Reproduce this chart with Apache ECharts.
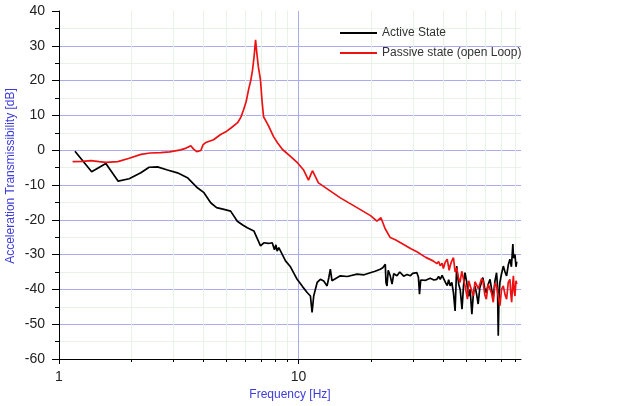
<!DOCTYPE html>
<html>
<head>
<meta charset="utf-8">
<script src="https://cdn.jsdelivr.net/npm/echarts@6/dist/echarts.min.js"></script>
<style>html,body{margin:0;padding:0;background:#fff}#c{width:624px;height:406px}</style>
</head>
<body>
<div id="c"></div>
<script>
// ---- data ----
const seriesNames = ['Active State', 'Passive state (open Loop)'];
const xAxisTitle = 'Frequency [Hz]';
const yAxisTitle = 'Acceleration Transmissibility [dB]';
const xMin = 1, xMax = 85;
const yMin = -60, yMax = 40, yStep = 10;
const majorFreqTicks = [1, 10];
const minorFreqTicks = [2, 3, 4, 5, 6, 7, 8, 9, 20, 30, 40, 50, 60, 70, 80];

const activeState = [
  [1.166,-0.3],[1.369,-6.2],[1.569,-3.8],[1.767,-8.9],[1.963,-8.2],[2.197,-6.5],[2.378,-4.9],[2.578,-4.8],
  [2.838,-5.7],[3.124,-6.5],[3.438,-7.9],[3.785,-10.8],[4.031,-12.2],[4.30,-15.1],[4.55,-16.5],[4.885,-17.0],
  [5.21,-17.5],[5.555,-20.4],[5.85,-21.5],[6.114,-22.3],[6.513,-23.2],[6.944,-27.5],[7.169,-26.6],[7.5,-26.8],
  [7.77,-26.6],[7.94,-28.6],[8.05,-27.2],[8.15,-29.0],[8.28,-28.0],[8.83,-31.8],[9.26,-33.5],[9.876,-37.1],
  [10.4,-39.2],[10.87,-40.9],[11.22,-41.9],[11.40,-46.6],[11.58,-41.9],[11.97,-38.0],[12.35,-37.1],[12.75,-37.6],
  [13.17,-39.0],[13.4,-36.5],[13.59,-34.2],[13.8,-37.5],[14.03,-37.1],[14.96,-36.1],[16.0,-36.3],[17.56,-35.6],
  [18.8,-35.8],[19.95,-35.2],[20.9,-34.8],[21.96,-34.2],[22.5,-33.8],[23.05,-32.8],[23.2,-38.0],[23.43,-39.0],
  [23.71,-34.5],[24.17,-36.1],[24.6,-38.5],[25.0,-35.5],[25.78,-36.1],[26.5,-35.0],[27.5,-36.2],[28.4,-35.7],
  [29.3,-36.1],[30.0,-35.4],[31.23,-35.2],[31.7,-36.5],[32.03,-41.4],[32.4,-37.3],[32.77,-37.1],[34.0,-37.4],
  [35.5,-36.8],[36.8,-37.3],[37.84,-37.1],[38.5,-36.3],
  [39.1,-37.1],[39.8,-36.0],[40.4,-36.1],[41.1,-38.0],[41.8,-38.9],[42.4,-37.2],[43.0,-39.0],[43.7,-38.0],
  [44.4,-41.0],[45.1,-46.2],[45.8,-33.3],[46.2,-36.0],[46.7,-38.5],[47.4,-40.2],[48.2,-45.7],[48.9,-39.0],
  [49.6,-35.2],[50.4,-37.8],[51.3,-42.0],[52.1,-40.0],[53.0,-47.1],[53.8,-41.0],[54.6,-39.0],[55.5,-41.5],
  [56.3,-44.2],[57.2,-39.5],[58.1,-38.0],[58.9,-36.6],[59.9,-39.5],[60.9,-41.0],[62.0,-38.5],[63.1,-37.1],
  [64.1,-40.0],[65.1,-42.3],[66.2,-37.5],[67.2,-35.2],[67.8,-39.0],[68.3,-53.3],[68.8,-42.0],[69.4,-38.0],
  [70.5,-35.5],[71.7,-33.3],[72.9,-35.0],[74.0,-36.1],[75.2,-33.0],[76.4,-31.3],[77.5,-33.5],[78.6,-27.0],
  [79.1,-31.0],[79.6,-30.7],[80.2,-29.9],[81.0,-33.5],[81.6,-32.0]
];

const passiveState = [
  [1.14,-3.3],[1.25,-3.2],[1.36,-3.0],[1.47,-3.3],[1.57,-3.5],[1.76,-3.3],[1.95,-2.4],[2.2,-1.2],
  [2.4,-0.8],[2.66,-0.7],[2.9,-0.5],[3.22,0.1],[3.4,0.6],[3.55,1.3],[3.65,0.3],[3.76,-0.4],
  [3.91,-0.1],[4.0,1.6],[4.1,2.2],[4.42,3.0],[4.73,4.5],[5.0,5.4],[5.21,6.3],[5.57,7.9],
  [5.75,9.5],[5.9,11.6],[6.05,14.0],[6.19,17.4],[6.32,20.0],[6.43,23.0],[6.53,27.0],[6.62,31.7],
  [6.7,28.0],[6.8,24.0],[6.94,20.2],[7.05,14.0],[7.15,9.6],[7.3,8.5],[7.5,7.0],[7.87,3.9],
  [8.2,2.0],[8.58,0.2],[9.26,-1.8],[9.9,-3.6],[10.49,-5.6],[11.01,-8.6],[11.44,-5.9],[12.12,-9.4],
  [12.35,-9.9],[14.96,-13.7],[17.56,-16.5],[20.0,-18.8],[21.27,-20.4],[22.11,-19.4],[23.0,-22.5],[24.17,-25.1],
  [25.5,-25.8],[27.38,-27.0],[29.5,-28.3],[31.23,-29.2],[34.0,-30.8],[36.5,-31.8],[37.84,-32.6],
  [38.5,-32.0],[39.1,-33.2],[39.8,-32.5],[40.3,-34.0],[41.0,-32.2],[41.8,-31.3],[42.6,-34.5],[43.0,-33.2],
  [43.7,-31.8],[44.4,-30.9],[45.1,-35.0],[45.8,-33.9],[46.5,-36.5],[47.3,-38.0],[48.1,-34.8],[49.0,-35.2],
  [49.8,-39.5],[50.8,-42.8],[51.4,-37.5],[52.1,-38.0],[53.0,-40.5],[53.8,-41.9],[54.6,-37.8],[55.5,-37.6],
  [56.4,-39.8],[57.3,-40.1],[58.2,-36.9],[59.0,-37.6],[60.0,-41.5],[60.9,-42.8],[62.0,-38.5],[63.1,-38.0],
  [64.0,-41.0],[65.1,-43.7],[66.2,-38.2],[67.2,-39.0],[68.3,-42.0],[69.4,-44.7],[70.5,-40.0],[71.7,-39.0],
  [72.9,-41.5],[74.0,-42.8],[75.2,-38.0],[76.4,-37.1],[77.0,-41.0],[77.7,-43.7],[78.4,-39.0],[79.0,-36.1],
  [79.6,-40.5],[80.2,-41.9],[81.0,-37.5],[81.6,-38.5]
];

// ---- chart ----
const chart = echarts.init(document.getElementById('c'), null, {renderer: 'canvas'});
const MAJOR = '#aaaaee', MINOR = '#e6f3e6';
const nLines = (yMax - yMin) / yStep + 1;
const splitColors = [];
for (let i = 0; i < nLines; i++) splitColors.push(i === nLines - 1 ? 'rgba(0,0,0,0)' : MAJOR);

const tickData = majorFreqTicks.map(f => [f, yMin, 1]).concat(minorFreqTicks.map(f => [f, yMin, 0]));

chart.setOption({
  animation: false,
  backgroundColor: '#fff',
  textStyle: {fontFamily: 'Liberation Sans, Arial, sans-serif'},
  grid: {left: 59, right: 103, top: 11, bottom: 46, containLabel: false},
  legend: {
    data: seriesNames,
    orient: 'vertical',
    left: 340, top: 26, padding: 0,
    icon: 'rect', itemWidth: 37, itemHeight: 2, itemGap: 6,
    textStyle: {fontSize: 12, color: '#333', lineHeight: 14},
    selectedMode: false
  },
  xAxis: {
    type: 'log', logBase: 10, min: xMin, max: xMax,
    name: xAxisTitle, nameLocation: 'middle', nameGap: 30,
    nameTextStyle: {color: '#3c3cdc', fontSize: 12},
    axisLine: {show: true, onZero: false, lineStyle: {color: '#000', width: 1}},
    axisTick: {show: false},
    splitLine: {show: false},
    axisLabel: {
      fontSize: 14, color: '#222', margin: 11, showMaxLabel: false,
      formatter: v => {
        const l = Math.log10(v);
        return Math.abs(l - Math.round(l)) < 1e-6 ? String(Math.round(v)) : '';
      }
    }
  },
  yAxis: {
    type: 'value', min: yMin, max: yMax, interval: yStep,
    axisLine: {show: true, onZero: false, lineStyle: {color: '#000', width: 1}},
    axisTick: {show: true, length: 7, lineStyle: {color: '#000'}},
    minorTick: {show: true, splitNumber: 2, length: 4, lineStyle: {color: '#000'}},
    splitLine: {show: true, lineStyle: {color: splitColors, width: 1}},
    minorSplitLine: {show: true, lineStyle: {color: MINOR, width: 1}},
    axisLabel: {fontSize: 14, color: '#222', margin: 14}
  },
  graphic: [{
    type: 'text', x: 11, y: 176, rotation: Math.PI / 2,
    style: {text: yAxisTitle, fill: '#3c3cdc', font: '12px "Liberation Sans", Arial, sans-serif',
            align: 'center', verticalAlign: 'middle'}
  }],
  series: [
    {
      type: 'custom', silent: true, z: 1, clip: false,
      data: tickData, encode: {x: 0, y: 1},
      renderItem: (params, api) => {
        const f = api.value(0);
        const major = api.value(2) === 1;
        const b = api.coord([f, yMin]);
        const t = api.coord([f, yMax]);
        const x = Math.round(b[0]) + 0.5;
        const children = [];
        if (f > xMin) {
          children.push({type: 'line', shape: {x1: x, y1: t[1], x2: x, y2: b[1]},
            style: {stroke: major ? MAJOR : MINOR, lineWidth: 1}});
        }
        children.push({type: 'line', shape: {x1: x, y1: b[1], x2: x, y2: b[1] + (major ? 5 : 3)},
          style: {stroke: '#000', lineWidth: 1}, z2: 10});
        return {type: 'group', children};
      }
    },
    {
      name: seriesNames[0], type: 'line', data: activeState, showSymbol: false, z: 3,
      lineStyle: {color: '#000', width: 1.7}, itemStyle: {color: '#000'}
    },
    {
      name: seriesNames[1], type: 'line', data: passiveState, showSymbol: false, z: 4,
      lineStyle: {color: '#ee1111', width: 1.7}, itemStyle: {color: '#ee1111'}
    }
  ]
});
</script>
</body>
</html>
